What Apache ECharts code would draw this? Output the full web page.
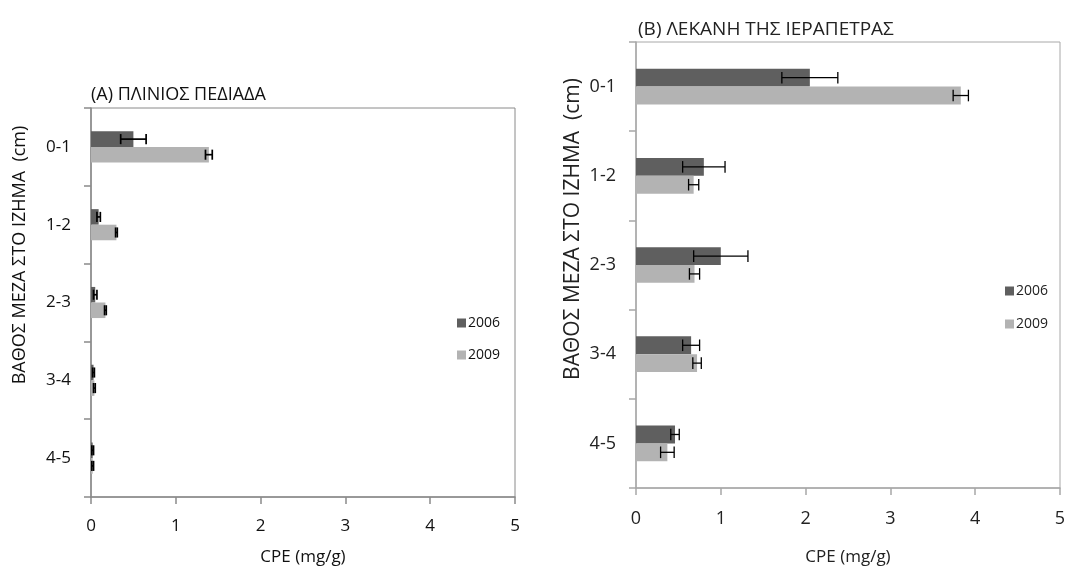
<!DOCTYPE html>
<html>
<head>
<meta charset="utf-8">
<script src="https://cdn.jsdelivr.net/npm/echarts@6/dist/echarts.min.js"></script>
<style>
  html, body { margin: 0; padding: 0; background: #fff; }
  #wrap { position: relative; width: 1070px; height: 571px; overflow: hidden; }
  #plainA { position: absolute; left: 0; top: 0; width: 545px; height: 571px; }
  #basinB { position: absolute; left: 545px; top: 0; width: 525px; height: 571px; filter: blur(0.6px); }
</style>
</head>
<body>
<div id="wrap">
  <div id="plainA"></div>
  <div id="basinB"></div>
</div>
<script>
// Sediment depth classes (cm) and sampling years
const depths = ['0-1', '1-2', '2-3', '3-4', '4-5'];
const years = ['2006', '2009'];

// (A) Plinios plain: CPE (mg/g) mean and error per depth
const plinios2006 = [0.50, 0.09, 0.05, 0.03, 0.02];
const plinios2006Err = [0.15, 0.02, 0.02, 0.01, 0.01];
const plinios2009 = [1.39, 0.30, 0.17, 0.04, 0.02];
const plinios2009Err = [0.04, 0.01, 0.01, 0.01, 0.01];

// (B) Ierapetra basin: CPE (mg/g) mean and error per depth
const ierapetra2006 = [2.05, 0.80, 1.00, 0.65, 0.46];
const ierapetra2006Err = [0.33, 0.25, 0.32, 0.10, 0.05];
const ierapetra2009 = [3.83, 0.68, 0.69, 0.72, 0.37];
const ierapetra2009Err = [0.09, 0.06, 0.06, 0.05, 0.08];

const FONT = 'Open Sans, Noto Sans, sans-serif';
const DARK = '#5f5f5f';
const LIGHT = '#b3b3b3';
const GAP_FRAC = 0.6;           // barCategoryGap
const BAR_FRAC = (1 - GAP_FRAC) / 2;

// Whiskers drawn at the end of each bar; slot -1 = upper bar, +1 = lower bar
function errorSeries(values, errs, slot, lineW) {
  return {
    type: 'custom',
    silent: true,
    z: 5,
    data: values.map((v, i) => [v, i, errs[i]]),
    encode: { x: 0, y: 1 },
    renderItem(params, api) {
      const v = api.value(0), c = api.value(1), e = api.value(2);
      const band = api.size([0, 1])[1];
      const y = api.coord([v, c])[1] + slot * band * BAR_FRAC / 2;
      const x0 = api.coord([Math.max(0, v - e), c])[0];
      const x1 = api.coord([v + e, c])[0];
      const h = band * 0.065;
      const style = { stroke: '#000', lineWidth: lineW, fill: null };
      return {
        type: 'group',
        children: [
          { type: 'line', shape: { x1: x0, y1: y, x2: x1, y2: y }, style },
          { type: 'line', shape: { x1: x0, y1: y - h, x2: x0, y2: y + h }, style },
          { type: 'line', shape: { x1: x1, y1: y - h, x2: x1, y2: y + h }, style }
        ]
      };
    }
  };
}

function buildOption(cfg) {
  return {
    animation: false,
    textStyle: { fontFamily: FONT },
    title: {
      text: cfg.title,
      left: cfg.titleLeft, top: cfg.titleTop,
      textStyle: { fontFamily: FONT, fontSize: cfg.titleSize, fontWeight: 'normal', color: cfg.text }
    },
    legend: {
      data: years,
      orient: 'vertical',
      left: cfg.legendLeft, top: cfg.legendTop,
      icon: 'rect', itemWidth: 9, itemHeight: 9, itemGap: cfg.legendGap,
      textStyle: { fontFamily: FONT, fontSize: cfg.legendSize, color: cfg.text, padding: [0, 0, 0, -3] }
    },
    grid: {
      left: cfg.grid.left, top: cfg.grid.top, width: cfg.grid.width, height: cfg.grid.height,
      show: true, borderColor: cfg.frame, borderWidth: 1, backgroundColor: 'transparent'
    },
    xAxis: {
      type: 'value', min: 0, max: 5, interval: 1,
      name: 'CPE (mg/g)', nameLocation: 'middle', nameGap: cfg.nameGap,
      nameTextStyle: { fontFamily: FONT, fontSize: cfg.nameSize, color: cfg.text },
      axisLine: { show: true, lineStyle: { color: cfg.frame, width: 1.5 } },
      axisTick: { show: true, length: 7, lineStyle: { color: cfg.frame, width: 1.5 } },
      axisLabel: { fontFamily: FONT, fontSize: cfg.labelSize, color: cfg.text, margin: cfg.xLabelMargin },
      splitLine: { show: false }
    },
    yAxis: {
      type: 'category', data: depths, inverse: true,
      axisLine: { show: true, lineStyle: { color: cfg.frame, width: 1.5 } },
      axisTick: { show: true, length: 7, lineStyle: { color: cfg.frame, width: 1.5 } },
      axisLabel: { fontFamily: FONT, fontSize: cfg.catSize, color: cfg.text, margin: 20 }
    },
    graphic: [{
      type: 'text',
      x: cfg.yNameX, y: cfg.yNameY, rotation: Math.PI / 2,
      style: {
        text: 'ΒΑΘΟΣ ΜΕΖΑ ΣΤΟ ΙΖΗΜΑ  (cm)',
        fontFamily: FONT, fontSize: cfg.yNameSize, fill: cfg.text,
        textAlign: 'center', textVerticalAlign: 'middle'
      }
    }],
    series: [
      { type: 'bar', name: years[0], data: cfg.a, itemStyle: { color: DARK },
        barCategoryGap: (GAP_FRAC * 100) + '%', barGap: '0%' },
      { type: 'bar', name: years[1], data: cfg.b, itemStyle: { color: LIGHT },
        barCategoryGap: (GAP_FRAC * 100) + '%', barGap: '0%' },
      errorSeries(cfg.a, cfg.aErr, -1, cfg.errW),
      errorSeries(cfg.b, cfg.bErr, 1, cfg.errW)
    ]
  };
}

const chartA = echarts.init(document.getElementById('plainA'), null, { renderer: 'canvas' });
chartA.setOption(buildOption({
  title: '(Α) ΠΛΙΝΙΟΣ ΠΕΔΙΑΔΑ', titleLeft: 86, titleTop: 81, titleSize: 18,
  legendLeft: 452, legendTop: 311, legendGap: 18, legendSize: 14,
  grid: { left: 91, top: 108, width: 424, height: 392 },
  nameGap: 52, xLabelMargin: 21, labelSize: 17, catSize: 17, nameSize: 17,
  yNameX: 20, yNameY: 255, yNameSize: 18,
  text: '#111', frame: '#8a8a8a', errW: 1.7,
  a: plinios2006, aErr: plinios2006Err, b: plinios2009, bErr: plinios2009Err
}));

const chartB = echarts.init(document.getElementById('basinB'), null, { renderer: 'canvas' });
chartB.setOption(buildOption({
  title: '(Β) ΛΕΚΑΝΗ ΤΗΣ ΙΕΡΑΠΕΤΡΑΣ', titleLeft: 88, titleTop: 15, titleSize: 19,
  legendLeft: 455, legendTop: 279, legendGap: 19, legendSize: 14,
  grid: { left: 91, top: 42, width: 424, height: 446 },
  nameGap: 61, xLabelMargin: 22, labelSize: 18, catSize: 18, nameSize: 17,
  yNameX: 28, yNameY: 229, yNameSize: 21,
  text: '#222', frame: '#a8a8a8', errW: 1.3,
  a: ierapetra2006, aErr: ierapetra2006Err, b: ierapetra2009, bErr: ierapetra2009Err
}));
</script>
</body>
</html>
